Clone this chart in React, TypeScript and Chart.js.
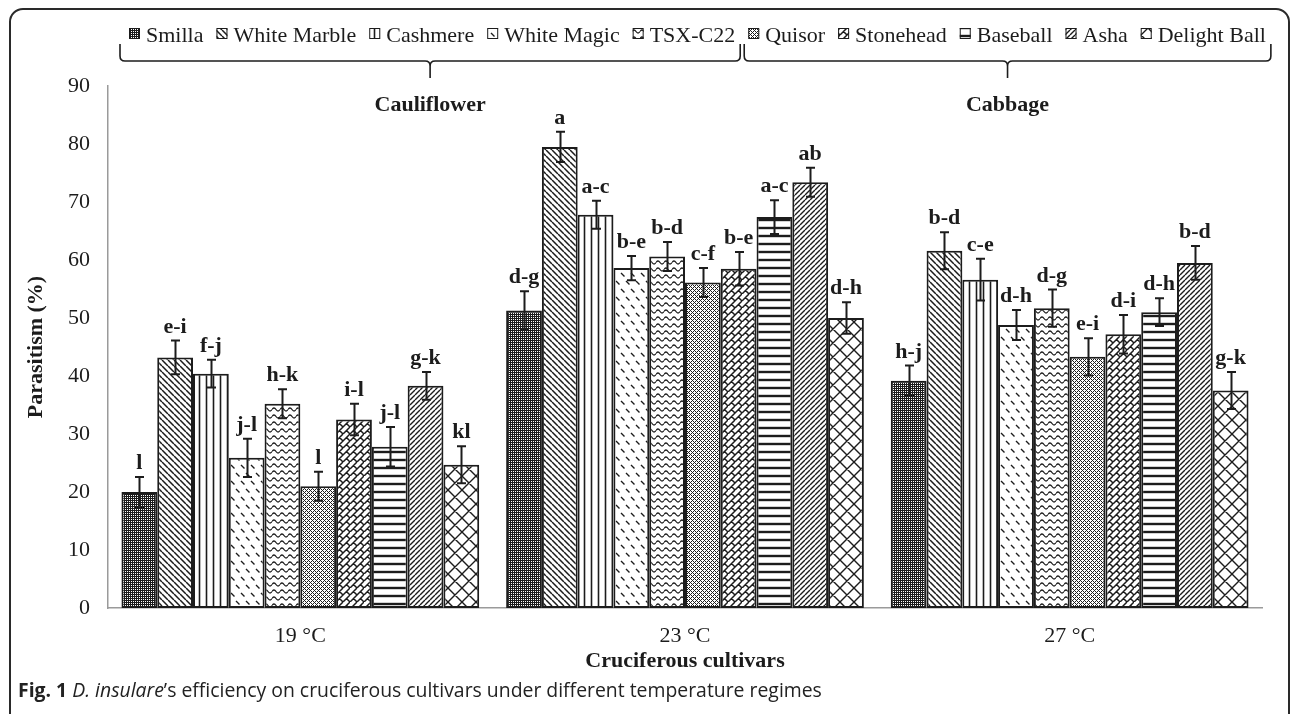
import React, { useEffect, useRef } from 'react';
import { Chart, registerables } from 'chart.js';

Chart.register(...registerables);

// ---------------- data ----------------
const temperatures = ['19 °C', '23 °C', '27 °C'];
const cultivars = ['Smilla', 'White Marble', 'Cashmere', 'White Magic', 'TSX-C22', 'Quisor', 'Stonehead', 'Baseball', 'Asha', 'Delight Ball'];
const crops = ['Cauliflower', 'Cabbage'];
const cropSizes = [5, 5];

const smilla = [20.0, 51.3, 39.2];
const whiteMarble = [43.2, 79.5, 61.6];
const cashmere = [40.4, 67.8, 56.6];
const whiteMagic = [25.9, 58.6, 48.8];
const tsxC22 = [35.2, 60.6, 51.7];
const quisor = [21.0, 56.1, 43.3];
const stonehead = [32.5, 58.5, 47.2];
const baseball = [27.8, 67.4, 51.0];
const asha = [38.3, 73.4, 59.5];
const delightBall = [24.7, 50.0, 37.5];

const smillaErr = [2.6, 3.3, 2.6];
const whiteMarbleErr = [2.9, 2.6, 3.2];
const cashmereErr = [2.4, 2.4, 3.6];
const whiteMagicErr = [3.3, 2.1, 2.6];
const tsxC22Err = [2.5, 2.5, 3.2];
const quisorErr = [2.5, 2.5, 3.2];
const stoneheadErr = [2.7, 2.9, 3.3];
const baseballErr = [3.4, 2.9, 2.4];
const ashaErr = [2.4, 2.5, 2.9];
const delightBallErr = [3.2, 2.7, 3.2];

const smillaLetters = ['l', 'd-g', 'h-j'];
const whiteMarbleLetters = ['e-i', 'a', 'b-d'];
const cashmereLetters = ['f-j', 'a-c', 'c-e'];
const whiteMagicLetters = ['j-l', 'b-e', 'd-h'];
const tsxC22Letters = ['h-k', 'b-d', 'd-g'];
const quisorLetters = ['l', 'c-f', 'e-i'];
const stoneheadLetters = ['i-l', 'b-e', 'd-i'];
const baseballLetters = ['j-l', 'a-c', 'd-h'];
const ashaLetters = ['g-k', 'ab', 'b-d'];
const delightBallLetters = ['kl', 'd-h', 'g-k'];

const yMin = 0;
const yMax = 90;
const yStep = 10;

const values = [smilla, whiteMarble, cashmere, whiteMagic, tsxC22, quisor, stonehead, baseball, asha, delightBall];
const errors = [smillaErr, whiteMarbleErr, cashmereErr, whiteMagicErr, tsxC22Err, quisorErr, stoneheadErr, baseballErr, ashaErr, delightBallErr];
const letters = [smillaLetters, whiteMarbleLetters, cashmereLetters, whiteMagicLetters, tsxC22Letters, quisorLetters, stoneheadLetters, baseballLetters, ashaLetters, delightBallLetters];
const patternKinds = ['dense', 'back', 'vert', 'dashback', 'wave', 'lattice', 'brick', 'horiz', 'fwd', 'diamond'];

const INK = '#1c1c1c';
const SERIF = '"Liberation Serif", "Times New Roman", serif';

function makePattern(ctx: CanvasRenderingContext2D, kind: string): CanvasPattern | string {
  const c = document.createElement('canvas');
  let w = 8, h = 8;
  if (kind === 'dense' || kind === 'lattice') { w = 4; h = 4; }
  if (kind === 'back') { w = 6; h = 6; }
  if (kind === 'fwd') { w = 5; h = 5; }
  if (kind === 'vert') { w = 7; h = 7; }
  if (kind === 'horiz') { w = 8; h = 8; }
  if (kind === 'dashback') { w = 10; h = 16; }
  if (kind === 'wave') { w = 8; h = 7; }
  if (kind === 'brick') { w = 14; h = 14; }
  if (kind === 'diamond') { w = 14; h = 14; }
  c.width = w; c.height = h;
  const g = c.getContext('2d')!;
  g.fillStyle = '#ffffff';
  g.fillRect(0, 0, w, h);
  g.strokeStyle = INK;
  g.fillStyle = INK;
  g.lineCap = 'butt';
  if (kind === 'dense') {
    for (let x = 0; x < 4; x++) for (let y = 0; y < 4; y++) {
      if (!(x % 2 === 1 && y % 2 === 1)) g.fillRect(x, y, 1, 1);
    }
  } else if (kind === 'lattice') {
    for (let x = 0; x < 4; x++) for (let y = 0; y < 4; y++) {
      if ((x + y) % 4 === 0 || (x - y + 4) % 4 === 0) g.fillRect(x, y, 1, 1);
    }
  } else if (kind === 'back') {
    g.lineWidth = 1.5;
    g.beginPath();
    for (const o of [-w, 0, w]) { g.moveTo(o, 0); g.lineTo(o + w, h); }
    g.stroke();
  } else if (kind === 'fwd') {
    g.lineWidth = 1.4;
    g.beginPath();
    for (const o of [-w, 0, w]) { g.moveTo(o, h); g.lineTo(o + w, 0); }
    g.stroke();
  } else if (kind === 'vert') {
    g.lineWidth = 1.6;
    g.beginPath(); g.moveTo(3.5, 0); g.lineTo(3.5, h); g.stroke();
  } else if (kind === 'horiz') {
    g.lineWidth = 2.4;
    g.beginPath(); g.moveTo(0, 4); g.lineTo(w, 4); g.stroke();
  } else if (kind === 'dashback') {
    g.lineWidth = 1.4;
    g.beginPath();
    g.moveTo(1, 1); g.lineTo(4.5, 4.5);
    g.moveTo(6, 9); g.lineTo(9.5, 12.5);
    g.stroke();
  } else if (kind === 'wave') {
    g.lineWidth = 1.3;
    g.beginPath();
    g.moveTo(0, 3.5);
    g.quadraticCurveTo(2, 0.5, 4, 3.5);
    g.quadraticCurveTo(6, 6.5, 8, 3.5);
    g.stroke();
  } else if (kind === 'brick') {
    g.lineWidth = 1.5;
    g.beginPath();
    g.moveTo(0, 7); g.lineTo(7, 0);
    g.moveTo(0, 14); g.lineTo(14, 0);
    g.moveTo(7, 14); g.lineTo(14, 7);
    g.moveTo(3.5, 3.5); g.lineTo(7, 7);
    g.moveTo(10.5, 10.5); g.lineTo(14, 14);
    g.moveTo(10.5, 3.5); g.lineTo(14, 7);
    g.moveTo(3.5, 10.5); g.lineTo(7, 14);
    g.stroke();
  } else if (kind === 'diamond') {
    g.lineWidth = 1.4;
    g.beginPath();
    for (const o of [-w, 0, w]) {
      g.moveTo(o, 0); g.lineTo(o + w, h);
      g.moveTo(o, h); g.lineTo(o + w, 0);
    }
    g.stroke();
  }
  return ctx.createPattern(c, 'repeat') || '#888';
}

type LegendItem = { box: number; textX: number; textEnd: number };

function layoutLegend(ctx: CanvasRenderingContext2D): LegendItem[] {
  ctx.save();
  ctx.font = `22px ${SERIF}`;
  const items: LegendItem[] = [];
  let x = 129;
  for (const name of cultivars) {
    const tw = ctx.measureText(name).width;
    items.push({ box: x, textX: x + 17, textEnd: x + 17 + tw });
    x = x + 17 + tw + 13;
  }
  ctx.restore();
  return items;
}

const overlayPlugin = {
  id: 'overlay',
  afterDatasetsDraw(chart: any) {
    const ctx: CanvasRenderingContext2D = chart.ctx;
    const yScale = chart.scales.y;
    ctx.save();
    ctx.strokeStyle = INK;
    ctx.lineWidth = 2;
    ctx.fillStyle = INK;
    ctx.font = `bold 22px ${SERIF}`;
    ctx.textAlign = 'center';
    ctx.textBaseline = 'alphabetic';
    values.forEach((series, i) => {
      const meta = chart.getDatasetMeta(i);
      series.forEach((v, j) => {
        const bar = meta.data[j];
        const x = Math.round(bar.x) + 0.5;
        const yTop = yScale.getPixelForValue(v + errors[i][j]);
        const yBot = yScale.getPixelForValue(v - errors[i][j]);
        ctx.beginPath();
        ctx.moveTo(x, yTop); ctx.lineTo(x, yBot);
        ctx.moveTo(x - 4.5, yTop); ctx.lineTo(x + 4.5, yTop);
        ctx.moveTo(x - 4.5, yBot); ctx.lineTo(x + 4.5, yBot);
        ctx.stroke();
        ctx.fillText(letters[i][j], bar.x, yTop - 8);
      });
    });
    ctx.restore();
  },
  afterDraw(chart: any) {
    const ctx: CanvasRenderingContext2D = chart.ctx;
    const items = layoutLegend(ctx);
    ctx.save();
    // legend
    ctx.font = `22px ${SERIF}`;
    ctx.textBaseline = 'alphabetic';
    ctx.textAlign = 'left';
    items.forEach((it, i) => {
      const ds = chart.data.datasets[i];
      ctx.fillStyle = ds.backgroundColor;
      ctx.fillRect(it.box, 28, 11, 11);
      ctx.strokeStyle = INK;
      ctx.lineWidth = 1;
      ctx.strokeRect(it.box + 0.5, 28.5, 10, 10);
      ctx.fillStyle = INK;
      ctx.fillText(cultivars[i], it.textX, 41.5);
    });
    // braces + crop labels
    let start = 0;
    crops.forEach((crop, k) => {
      const first = items[start];
      const last = items[start + cropSizes[k] - 1];
      const x1 = k === 0 ? first.box - 9 : first.box - 4;
      const x2 = last.textEnd + 5;
      const mid = (x1 + x2) / 2;
      const yT = 44, yL = 61, yTick = 78, r = 5;
      ctx.strokeStyle = INK;
      ctx.lineWidth = 1.6;
      ctx.beginPath();
      ctx.moveTo(x1, yT);
      ctx.lineTo(x1, yL - r);
      ctx.quadraticCurveTo(x1, yL, x1 + r, yL);
      ctx.lineTo(mid - r, yL);
      ctx.quadraticCurveTo(mid, yL, mid, yL + r);
      ctx.lineTo(mid, yTick);
      ctx.moveTo(mid, yL + r);
      ctx.quadraticCurveTo(mid, yL, mid + r, yL);
      ctx.lineTo(x2 - r, yL);
      ctx.quadraticCurveTo(x2, yL, x2, yL - r);
      ctx.lineTo(x2, yT);
      ctx.stroke();
      ctx.fillStyle = INK;
      ctx.font = `bold 22px ${SERIF}`;
      ctx.textAlign = 'center';
      ctx.fillText(crop, mid, 111);
      ctx.textAlign = 'left';
      ctx.font = `22px ${SERIF}`;
      start += cropSizes[k];
    });
    ctx.restore();
  },
};

export default function App() {
  const canvasRef = useRef<HTMLCanvasElement | null>(null);

  useEffect(() => {
    const canvas = canvasRef.current;
    if (!canvas) return;
    const ctx = canvas.getContext('2d')!;
    const datasets = cultivars.map((name, i) => ({
      label: name,
      data: values[i],
      backgroundColor: makePattern(ctx, patternKinds[i]),
      borderColor: INK,
      borderWidth: 2,
      borderSkipped: false,
      categoryPercentage: 0.93,
      barPercentage: 1.0,
    }));
    const chart = new Chart(canvas, {
      type: 'bar',
      data: { labels: temperatures, datasets: datasets as any },
      options: {
        animation: false,
        responsive: false,
        devicePixelRatio: 1,
        layout: { padding: { top: 86, right: 30, left: 0, bottom: 0 } },
        plugins: {
          legend: { display: false },
          tooltip: { enabled: false },
          title: { display: false },
        },
        scales: {
          x: {
            grid: { display: false, drawTicks: false },
            border: { display: true, color: '#9a9a9a', width: 1.5 },
            ticks: { color: INK, font: { family: SERIF, size: 22 }, padding: 15 },
            title: {
              display: true,
              text: 'Cruciferous cultivars',
              color: INK,
              font: { family: SERIF, size: 22, weight: 'bold' },
              padding: { top: 0, bottom: 39 },
            },
            afterFit: (s: any) => { s.height = 106; },
          },
          y: {
            min: yMin,
            max: yMax,
            grid: { display: false, drawTicks: false },
            border: { display: true, color: '#9a9a9a', width: 1.5 },
            ticks: { stepSize: yStep, color: INK, font: { family: SERIF, size: 22 }, padding: 18 },
            title: {
              display: true,
              text: 'Parasitism (%)',
              color: INK,
              font: { family: SERIF, size: 22, weight: 'bold' },
              padding: { top: 23, bottom: 0 },
            },
            afterFit: (s: any) => { s.width = 108; },
          },
        },
      },
      plugins: [overlayPlugin],
    } as any);
    return () => chart.destroy();
  }, []);

  return (
    <div style={{ position: 'fixed', left: 0, top: 0, width: 1292, height: 714, background: '#fff', overflow: 'hidden' }}>
      <div style={{ position: 'absolute', left: 9, top: 8, width: 1281, height: 760, border: '2px solid #2a2a2a', borderRadius: 14, boxSizing: 'border-box' }} />
      <canvas ref={canvasRef} width={1292} height={714} style={{ position: 'absolute', left: 0, top: 0, width: 1292, height: 714 }} />
      <div style={{ position: 'absolute', left: 18, top: 677, fontFamily: '"Open Sans", "Noto Sans", sans-serif', fontSize: 19.4, color: '#222', whiteSpace: 'nowrap', lineHeight: '26px' }}>
        <b>Fig. 1</b> <i>D. insulare</i>’s efficiency on cruciferous cultivars under different temperature regimes
      </div>
    </div>
  );
}
